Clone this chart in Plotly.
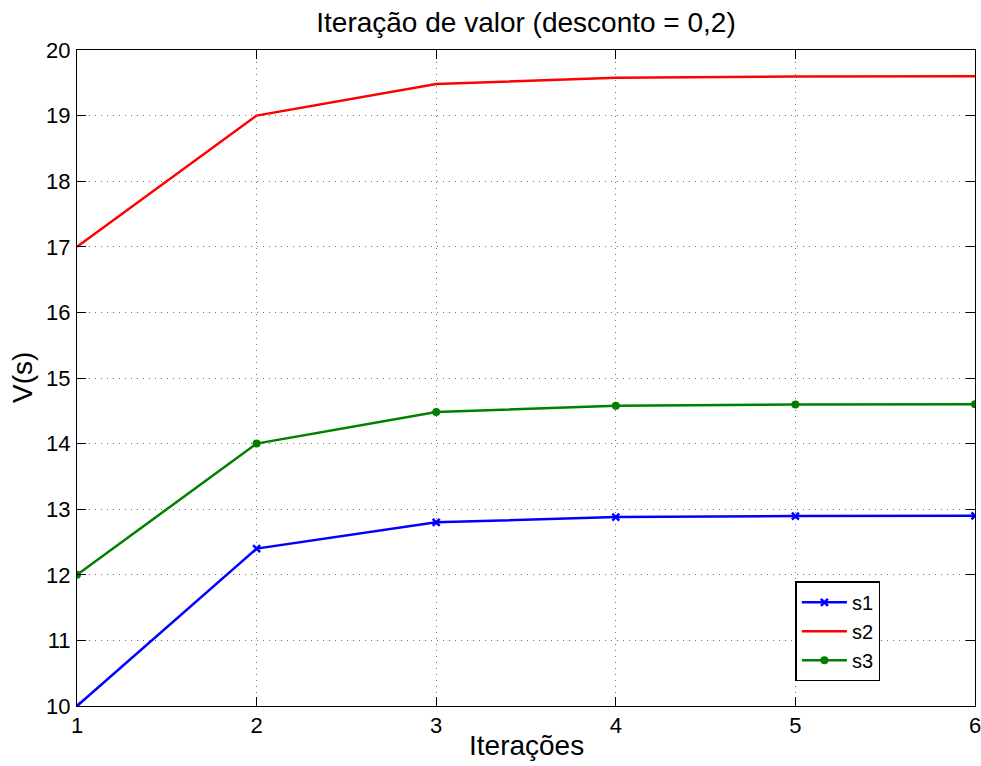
import plotly.graph_objects as go

iteracoes = [1, 2, 3, 4, 5, 6]
s1 = [10, 12.4, 12.8, 12.88, 12.896, 12.899]
s2 = [17, 19, 19.48, 19.576, 19.595, 19.599]
s3 = [12, 14, 14.48, 14.576, 14.595, 14.599]
x_ticks = [1, 2, 3, 4, 5, 6]
y_ticks = list(range(10, 21))

W, H = 981, 766
L, R, T, B = 77, 6, 50, 60

fig = go.Figure()
fig.add_trace(go.Scatter(x=iteracoes, y=s1, name="s1", mode="lines+markers",
                         line=dict(color="rgb(0,0,255)", width=2.5),
                         marker=dict(symbol="x-thin", size=7, line=dict(width=2.5, color="rgb(0,0,255)"))))
fig.add_trace(go.Scatter(x=iteracoes, y=s2, name="s2", mode="lines",
                         line=dict(color="rgb(255,0,0)", width=2.5)))
fig.add_trace(go.Scatter(x=iteracoes, y=s3, name="s3", mode="lines+markers",
                         line=dict(color="rgb(0,128,0)", width=2.5),
                         marker=dict(symbol="circle", size=8, color="rgb(0,128,0)")))

axis_common = dict(showline=True, linecolor="black", linewidth=1, mirror="ticks",
                   ticks="inside", ticklen=9, tickcolor="black", automargin=False,
                   ticklabeloverflow="allow",
                   showgrid=True, gridcolor="rgb(110,110,110)", griddash="1px,5px", gridwidth=1,
                   zeroline=False, tickfont=dict(size=22, color="black"))

fig.update_layout(
    width=W, height=H,
    paper_bgcolor="white", plot_bgcolor="white",
    font=dict(family="Liberation Sans, Arial, sans-serif", color="black"),
    margin=dict(l=L, r=R, t=T, b=B, autoexpand=False),
    title=dict(text="Iteração de valor (desconto = 0,2)", x=0.5, xanchor="center", xref="paper",
               y=1 - 22 / H, yanchor="middle", font=dict(size=28, color="black"), automargin=False),
    xaxis=dict(range=[1, 6], tickvals=x_ticks, ticklabelstandoff=0, **axis_common),
    yaxis=dict(range=[10, 20], tickvals=y_ticks, ticklabelstandoff=1, **axis_common),
    legend=dict(x=0.8, y=0.19, xanchor="left", yanchor="top",
                bgcolor="white", bordercolor="black", borderwidth=1.5,
                font=dict(size=20, color="black"), tracegroupgap=0, itemwidth=45),
    showlegend=True,
    annotations=[
        dict(text="Iterações", x=0.5, y=0, xref="paper", yref="paper", xanchor="center",
             yanchor="middle", yshift=-39, showarrow=False, font=dict(size=28, color="black")),
        dict(text="V(s)", x=0, y=0.5, xref="paper", yref="paper", xanchor="center",
             yanchor="middle", xshift=-55, textangle=-90, showarrow=False,
             font=dict(size=28, color="black")),
    ],
)

fig.write_html("out.html", config={"displayModeBar": False},
               post_script="document.body.style.margin='0';document.body.style.overflow='hidden';")
